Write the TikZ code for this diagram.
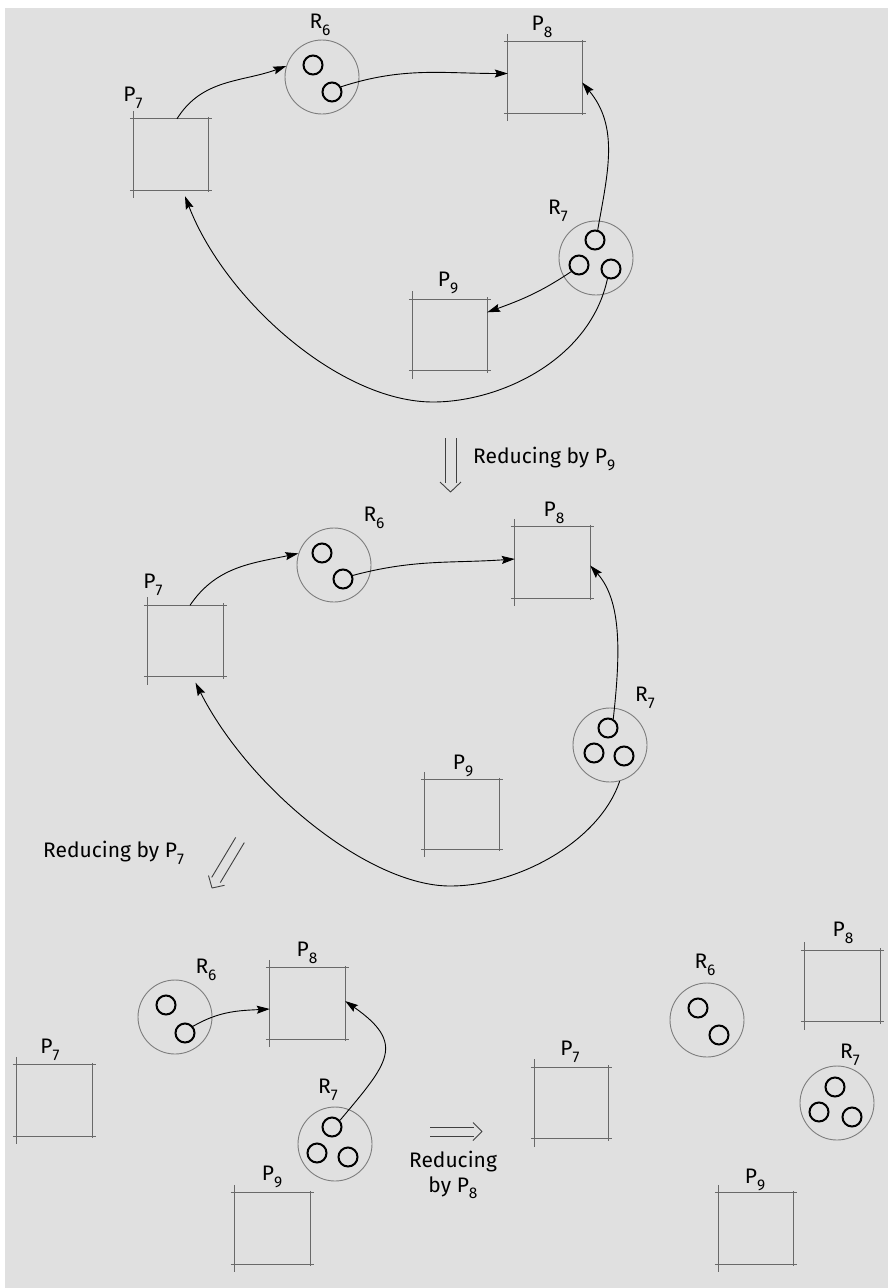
\documentclass[tikz,border=0pt]{standalone}
\usepackage{fontspec}
\setmainfont{Fira Sans}
\usetikzlibrary{arrows.meta}
\definecolor{paper}{RGB}{224,224,224}
\definecolor{boxgray}{RGB}{105,105,105}
\definecolor{resgray}{RGB}{125,125,125}
\newcommand{\lowsub}[1]{\raisebox{-0.32em}{\fontsize{15.5}{15.5}\selectfont #1}}
\newcommand{\lblfont}{\fontsize{21}{25}\selectfont}
\newcommand{\pbox}[1]{%
  \draw[boxline] ([xshift=-4pt]#1.north west) -- ([xshift=4pt]#1.north east);
  \draw[boxline] ([xshift=-4pt]#1.south west) -- ([xshift=4pt]#1.south east);
  \draw[boxline] ([yshift=8pt]#1.north west) -- ([yshift=-8pt]#1.south west);
  \draw[boxline] ([yshift=2pt]#1.north east) -- ([yshift=-2pt]#1.south east);}
\tikzset{
  res/.style={circle, draw=resgray, line width=0.9pt, minimum size=74pt, inner sep=0pt},
  unit/.style={circle, draw=black, line width=2pt, minimum size=19pt, inner sep=0pt},
  proc/.style={rectangle, draw=none, inner sep=0pt, minimum width=74pt, minimum height=71pt},
  boxline/.style={draw=boxgray, line width=1.1pt},
  lbl/.style={font=\lblfont, inner sep=0pt},
  conn/.style={draw=black, line width=0.9pt, -{Stealth[length=13pt,width=8pt,inset=2pt]}},
  hollow/.style={draw=black!75, line width=0.9pt, line join=round},
}
\begin{document}
\begin{tikzpicture}[x=1pt,y=-1pt]
\useasboundingbox (0,0) rectangle (888,1288);
\fill[paper] (0,0) rectangle (888,1288);
\fill[white] (0,0) rectangle (888,8);
\fill[white] (0,0) rectangle (5,1288);

% ---------------- Panel 1 ----------------
\node[proc] (p7a) at (171,154.5) {};
\node[proc] (p8a) at (545,77.5) {};
\node[proc] (p9a) at (450,335) {};
\pbox{p7a}\pbox{p8a}\pbox{p9a}
\node[res] (r6a) at (322,77) {};
\node[unit] (r6a1) at (313,65) {};
\node[unit] (r6a2) at (332,92) {};
\node[res] (r7a) at (596,258) {};
\node[unit] (r7a1) at (595,240) {};
\node[unit] (r7a2) at (579,265) {};
\node[unit] (r7a3) at (611,269) {};
\node[lbl] (la7) at (133,98) {P\lowsub{7}};
\node[lbl] (la8) at (542,27) {P\lowsub{8}};
\node[lbl] (la9) at (448,283) {P\lowsub{9}};
\node[lbl] (lar6) at (320,25) {R\lowsub{6}};
\node[lbl] (lar7) at (558,211) {R\lowsub{7}};
\coordinate (b1) at (433,402);

\draw[conn] ([xshift=6pt]p7a.north) to[out=58,in=200] (r6a.163);
\draw[conn] (r6a2.30) to[out=18,in=180] ([yshift=4pt]p8a.west);
\draw[conn] (r7a1.75) to[out=80,in=-50] ([yshift=-5pt]p8a.east);
\draw[conn] (r7a2.220) to[out=214,in=20] ([yshift=-13pt]p9a.north east);
\draw[conn] (r7a3.250) .. controls (590,360) and (500,402) .. (b1)
  .. controls (340,402) and (225,300) .. ([xshift=14pt,yshift=-6pt]p7a.south);

% hollow arrow down
\coordinate (h1a) at (445,438);
\coordinate (h1b) at (456,438);
\node[lbl, anchor=west] (t1) at (473,459) {Reducing by P\lowsub{9}};
\draw[hollow] (h1a) -- (445,483);
\draw[hollow] (h1b) -- (456,483);
\draw[hollow] (440,482) -- (450.5,492) -- (461,482);

% ---------------- Panel 2 ----------------
\node[proc, minimum width=75pt] (p7b) at (185.5,641) {};
\node[proc, minimum width=75pt] (p8b) at (552.5,562.5) {};
\node[proc, minimum height=69pt] (p9b) at (462,814.5) {};
\pbox{p7b}\pbox{p8b}\pbox{p9b}
\node[res] (r6b) at (334,565) {};
\node[unit] (r6b1) at (322,553) {};
\node[unit] (r6b2) at (343,579) {};
\node[res] (r7b) at (610,745) {};
\node[unit] (r7b1) at (608,728) {};
\node[unit] (r7b2) at (594,753) {};
\node[unit] (r7b3) at (624,756) {};
\node[lbl] (lb7) at (153,585) {P\lowsub{7}};
\node[lbl] (lb8) at (554,513) {P\lowsub{8}};
\node[lbl] (lb9) at (463,766) {P\lowsub{9}};
\node[lbl] (lbr6) at (374,518) {R\lowsub{6}};
\node[lbl] (lbr7) at (645,698) {R\lowsub{7}};
\coordinate (b2) at (450,886);

\draw[conn] ([xshift=4.5pt]p7b.north) to[out=56,in=192] (r6b.162);
\draw[conn] (r6b2.20) to[out=15,in=184] ([yshift=3.5pt]p8b.west);
\draw[conn] (r7b1.60) .. controls (621,650) and (621,600) .. ([yshift=-3pt]p8b.east);
\draw[conn] (r7b.-75) .. controls (600,840) and (520,886) .. (b2)
  .. controls (370,886) and (250,790) .. ([xshift=10pt,yshift=-6pt]p7b.south);

% hollow arrow diagonal
\node[lbl, anchor=west] (t2) at (43,853) {Reducing by P\lowsub{7}};
\draw[hollow] (244.3,842.6) -- (220.3,882.6);
\draw[hollow] (235.7,837.4) -- (211.7,877.4);
\draw[hollow] (208.5,875.5) -- (212,888) -- (224.5,885.3);

% ---------------- Panel 3 ----------------
\node[proc, minimum width=75pt] (p7c) at (54.5,1100.5) {};
\node[proc, minimum width=75pt] (p8c) at (307.5,1003.5) {};
\node[proc, minimum width=75pt] (p9c) at (272.5,1228.5) {};
\pbox{p7c}\pbox{p8c}\pbox{p9c}
\node[res] (r6c) at (175,1017) {};
\node[unit] (r6c1) at (166,1005) {};
\node[unit] (r6c2) at (185,1033) {};
\node[res] (r7c) at (335,1144) {};
\node[unit] (r7c1) at (332,1127) {};
\node[unit] (r7c2) at (317,1153) {};
\node[unit] (r7c3) at (348,1157) {};
\node[lbl] (lc7) at (50,1050) {P\lowsub{7}};
\node[lbl] (lc8) at (307,953) {P\lowsub{8}};
\node[lbl] (lc9) at (272,1177) {P\lowsub{9}};
\node[lbl] (lcr6) at (206,970) {R\lowsub{6}};
\node[lbl] (lcr7) at (328,1090) {R\lowsub{7}};

\draw[conn] (r6c2.40) to[out=30,in=183] ([yshift=-5.5pt]p8c.west);
\draw[conn] (r7c1.40) to[out=50,in=-35,looseness=1.6] ([yshift=2.5pt]p8c.east);

% hollow arrow right
\draw[hollow] (430,1127) -- (474,1127);
\draw[hollow] (430,1136) -- (474,1136);
\draw[hollow] (473,1122.5) -- (482,1131.5) -- (473,1140.5);
\node[lbl, align=center] (t3) at (453,1175) {Reducing\\by P\lowsub{8}};

% ---------------- Panel 4 ----------------
\node[proc, minimum width=73pt] (p7d) at (571.5,1103) {};
\node[proc, minimum width=75pt] (p8d) at (842.5,986) {};
\node[proc] (p9d) at (756,1228.5) {};
\pbox{p7d}\pbox{p8d}\pbox{p9d}
\node[res] (r6d) at (707,1020) {};
\node[unit] (r6d1) at (698,1008) {};
\node[unit] (r6d2) at (719,1035) {};
\node[res] (r7d) at (837,1103) {};
\node[unit] (r7d1) at (835,1087) {};
\node[unit] (r7d2) at (819,1112) {};
\node[unit] (r7d3) at (852,1117) {};
\node[lbl] (ld7) at (570,1052) {P\lowsub{7}};
\node[lbl] (ld8) at (843,933) {P\lowsub{8}};
\node[lbl] (ld9) at (755,1180) {P\lowsub{9}};
\node[lbl] (ldr6) at (705,965) {R\lowsub{6}};
\node[lbl] (ldr7) at (850,1055) {R\lowsub{7}};
\end{tikzpicture}
\end{document}
